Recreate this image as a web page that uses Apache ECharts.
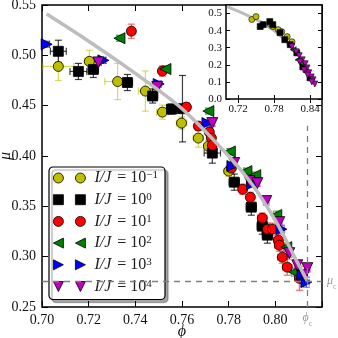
<!DOCTYPE html>
<html>
<head>
<meta charset="utf-8">
<script src="https://cdn.jsdelivr.net/npm/echarts@6/dist/echarts.min.js"></script>
<style>
html, body { margin: 0; padding: 0; background: #fff; }
#chart { width: 338px; height: 338px; }
</style>
</head>
<body>
<div id="chart"></div>
<script>
// each point: [phi, mu, dphi, dmu]
const yellowPts = [
    [0.7070, 0.4890, 0.0066, 0.014],
    [0.7203, 0.4940, 0.0022, 0.011],
    [0.7324, 0.4740, 0.0055, 0.018],
    [0.7443, 0.4645, 0.0030, 0.020],
    [0.7516, 0.4436, 0.0025, 0.007],
    [0.7598, 0.4327, 0.0022, 0.006],
    [0.7670, 0.4178, 0.0022, 0.009],
    [0.7713, 0.4098, 0.0020, 0.006],
    [0.7800, 0.3850, 0.0020, 0.005]
];
const blackPts = [
    [0.7070, 0.5040, 0.0034, 0.011],
    [0.7156, 0.4840, 0.0036, 0.008],
    [0.7220, 0.4860, 0.0022, 0.008],
    [0.7366, 0.4730, 0.0022, 0.008],
    [0.7474, 0.4596, 0.0022, 0.007],
    [0.7555, 0.4466, 0.0022, 0.005],
    [0.7602, 0.4470, 0.0022, 0.033],
    [0.7730, 0.4029, 0.0035, 0.010],
    [0.7824, 0.3740, 0.0022, 0.008],
    [0.7897, 0.3492, 0.0022, 0.008],
    [0.7944, 0.3303, 0.0022, 0.008],
    [0.7966, 0.3214, 0.0022, 0.008]
];
const redPts = [
    [0.7383, 0.5240, 0.0015, 0.007],
    [0.7516, 0.4844, 0.0015, 0.005],
    [0.7619, 0.4486, 0.0015, 0.004],
    [0.7670, 0.4297, 0.0015, 0.004],
    [0.7717, 0.4238, 0.0015, 0.004],
    [0.7726, 0.4178, 0.0015, 0.004],
    [0.7730, 0.4108, 0.0015, 0.004],
    [0.7812, 0.3880, 0.0015, 0.005],
    [0.7860, 0.3670, 0.0015, 0.005],
    [0.7893, 0.3590, 0.0015, 0.005],
    [0.7944, 0.3383, 0.0020, 0.005],
    [0.7966, 0.3273, 0.0020, 0.006],
    [0.7987, 0.3273, 0.0020, 0.006],
    [0.8013, 0.3164, 0.0020, 0.006],
    [0.8017, 0.3114, 0.0020, 0.006],
    [0.8030, 0.2995, 0.0020, 0.006],
    [0.8051, 0.2896, 0.0020, 0.008],
    [0.8103, 0.2786, 0.0020, 0.012]
];
const greenPts = [
    [0.7332, 0.5170, 0.0010, 0.003],
    [0.7529, 0.4864, 0.0010, 0.003],
    [0.7713, 0.4446, 0.0010, 0.003],
    [0.7805, 0.4045, 0.0010, 0.003],
    [0.7876, 0.3850, 0.0010, 0.003],
    [0.7914, 0.3810, 0.0010, 0.003],
    [0.8004, 0.3413, 0.0012, 0.004],
    [0.8047, 0.3094, 0.0012, 0.004],
    [0.8081, 0.2846, 0.0012, 0.004],
    [0.8110, 0.2780, 0.0012, 0.004]
];
const bluePts = [
    [0.7020, 0.5110, 0.0012, 0.003],
    [0.7263, 0.4950, 0.0010, 0.003],
    [0.7500, 0.4715, 0.0010, 0.003],
    [0.7709, 0.4327, 0.0010, 0.003],
    [0.7816, 0.3900, 0.0010, 0.003],
    [0.7900, 0.3720, 0.0010, 0.003],
    [0.8026, 0.3273, 0.0012, 0.004],
    [0.8116, 0.2816, 0.0012, 0.004],
    [0.8133, 0.2747, 0.0012, 0.005]
];
const magentaPts = [
    [0.7242, 0.4930, 0.0010, 0.003],
    [0.7494, 0.4685, 0.0010, 0.003],
    [0.7730, 0.4327, 0.0010, 0.003],
    [0.7824, 0.3930, 0.0010, 0.003],
    [0.7889, 0.3750, 0.0010, 0.003],
    [0.7923, 0.3730, 0.0010, 0.003],
    [0.7961, 0.3552, 0.0012, 0.004],
    [0.8017, 0.3343, 0.0012, 0.004],
    [0.8060, 0.3035, 0.0012, 0.004],
    [0.8094, 0.2915, 0.0012, 0.004],
    [0.8137, 0.2886, 0.0012, 0.004],
    [0.8124, 0.2816, 0.0012, 0.004]
];

// inset points: [phi, mu]
const insetYellow = [[0.743, 0.465], [0.750, 0.482], [0.773, 0.441], [0.778, 0.424], [0.787, 0.406], [0.793, 0.394], [0.802, 0.365], [0.810, 0.335]];
const insetBlack = [[0.757, 0.424], [0.762, 0.435], [0.773, 0.453], [0.778, 0.435], [0.790, 0.388], [0.798, 0.347], [0.807, 0.318], [0.818, 0.270], [0.828, 0.188], [0.840, 0.124]];
const insetGreen = [[0.812, 0.288], [0.820, 0.229], [0.825, 0.212], [0.833, 0.159]];
const insetMagenta = [[0.810, 0.306], [0.817, 0.276], [0.822, 0.253], [0.827, 0.229], [0.832, 0.206], [0.835, 0.182], [0.838, 0.153], [0.842, 0.129], [0.845, 0.112], [0.848, 0.088], [0.823, 0.218], [0.830, 0.170], [0.836, 0.140], [0.843, 0.100]];

// fitted curve (grey)
const curvePts = [[0.702, 0.541], [0.720, 0.514], [0.740, 0.482], [0.760, 0.447], [0.780, 0.400], [0.790, 0.372], [0.800, 0.336], [0.810, 0.292], [0.8137, 0.276]];

const phiC = 0.8137;
const muC = 0.276;

// inset tick values
const insetXTicks = [0.72, 0.78, 0.84];
const insetYTicks = [0, 0.1, 0.2, 0.3, 0.4, 0.5];

const exponents = ['\u22121', '0', '1', '2', '3', '4'];
const seriesNames = exponents.map(e => 'I/J = 10^' + e);
const colors = ['#bfbf00', '#000000', '#ff0000', '#008000', '#0000ff', '#bf00bf'];
const errColors = ['rgba(191,191,0,0.6)', 'rgba(0,0,0,0.75)', 'rgba(255,0,0,0.6)', 'rgba(0,128,0,0.6)', 'rgba(0,0,255,0.6)', 'rgba(191,0,191,0.6)'];
const allPts = [yellowPts, blackPts, redPts, greenPts, bluePts, magentaPts];
const insetPts = [insetYellow, insetBlack, null, insetGreen, null, insetMagenta];

const symbols = [
    'circle',
    'rect',
    'circle',
    'path://M0,5L10,0L10,10Z',
    'path://M10,5L0,0L0,10Z',
    'path://M0,0L10,0L5,10Z'
];
const symbolSizes = [10, 10, 10, 11, 11, 11];
// legend shows two markers side by side
const legendIcons = [
    'path://M0,5A5,5,0,1,1,10,5A5,5,0,1,1,0,5ZM22,5A5,5,0,1,1,32,5A5,5,0,1,1,22,5Z',
    'path://M0,0L10,0L10,10L0,10ZM22,0L32,0L32,10L22,10Z',
    'path://M0,5A5,5,0,1,1,10,5A5,5,0,1,1,0,5ZM22,5A5,5,0,1,1,32,5A5,5,0,1,1,22,5Z',
    'path://M0,5L10,0L10,10ZM22,5L32,0L32,10Z',
    'path://M10,5L0,0L0,10ZM32,5L22,0L22,10Z',
    'path://M0,0L10,0L5,10ZM22,0L32,0L27,10Z'
];

const serif = 'Liberation Serif';

function errorBars(color) {
    return function (params, api) {
        const x = api.value(0), y = api.value(1);
        const dx = api.value(2), dy = api.value(3);
        const l = api.coord([x - dx, y]);
        const r = api.coord([x + dx, y]);
        const t = api.coord([x, y + dy]);
        const b = api.coord([x, y - dy]);
        const cap = 3.5;
        const style = { stroke: color, lineWidth: 1.2 };
        const seg = (x1, y1, x2, y2) => ({ type: 'line', shape: { x1, y1, x2, y2 }, style });
        return {
            type: 'group',
            children: [
                seg(l[0], l[1], r[0], r[1]),
                seg(t[0], t[1], b[0], b[1]),
                seg(l[0], l[1] - cap, l[0], l[1] + cap),
                seg(r[0], r[1] - cap, r[0], r[1] + cap),
                seg(t[0] - cap, t[1], t[0] + cap, t[1]),
                seg(b[0] - cap, b[1], b[0] + cap, b[1])
            ]
        };
    };
}

const chart = echarts.init(document.getElementById('chart'));

const series = [];

// dashed reference lines in the main plot
series.push({
    type: 'line',
    xAxisIndex: 0,
    yAxisIndex: 0,
    data: [],
    z: 1,
    markLine: {
        silent: true,
        symbol: 'none',
        animation: false,
        lineStyle: { color: '#808080', width: 1.3, type: [6, 5] },
        label: {
            color: '#999',
            fontFamily: serif,
            rich: {
                i: { fontStyle: 'italic', fontSize: 12, fontFamily: serif, color: '#999' },
                s: { fontSize: 8, fontFamily: serif, color: '#999', verticalAlign: 'bottom', lineHeight: 8, padding: [0, 0, -4, 0] }
            }
        },
        data: [
            [{ coord: [0.70, muC], label: { position: 'end', formatter: '{i|\u03bc}{s|c}' } }, { coord: [0.82, muC] }],
            [{ coord: [phiC, 0.25], label: { position: 'start', formatter: '{i|\u03d5}{s|c}' } }, { coord: [phiC, 0.43] }]
        ]
    }
});

allPts.forEach((pts, i) => {
    series.push({
        type: 'custom',
        name: 'err' + i,
        xAxisIndex: 0,
        yAxisIndex: 0,
        renderItem: errorBars(errColors[i]),
        encode: { x: 0, y: 1 },
        data: pts,
        clip: true,
        z: 2
    });
    series.push({
        type: 'scatter',
        name: seriesNames[i],
        xAxisIndex: 0,
        yAxisIndex: 0,
        symbol: symbols[i],
        symbolSize: symbolSizes[i],
        encode: { x: 0, y: 1 },
        data: pts,
        itemStyle: { color: colors[i], borderColor: '#000', borderWidth: 0.8, opacity: 1 },
        z: 2
    });
});

series.push({
    type: 'line',
    name: 'fit',
    xAxisIndex: 0,
    yAxisIndex: 0,
    data: curvePts,
    smooth: 0.3,
    showSymbol: false,
    lineStyle: { color: '#bdbdbd', width: 3.5 },
    z: 3
});

// inset
series.push({
    type: 'line',
    name: 'fitInset',
    xAxisIndex: 2,
    yAxisIndex: 2,
    data: curvePts,
    smooth: 0.3,
    showSymbol: false,
    lineStyle: { color: '#bdbdbd', width: 3 },
    z: 12,
    markLine: {
        silent: true,
        symbol: 'none',
        animation: false,
        label: { show: false },
        lineStyle: { color: '#808080', width: 1.3, type: [6, 5] },
        data: [
            [{ coord: [0.70, muC] }, { coord: [0.86, muC] }],
            [{ coord: [phiC, 0] }, { coord: [phiC, 0.55] }]
        ]
    }
});
insetPts.forEach((pts, i) => {
    if (!pts) return;
    series.push({
        type: 'scatter',
        name: 'inset' + i,
        xAxisIndex: 2,
        yAxisIndex: 2,
        symbol: symbols[i],
        symbolSize: 6,
        data: pts,
        itemStyle: { color: colors[i], borderColor: '#000', borderWidth: 0.6, opacity: 1 },
        z: 13
    });
});

const mainTick = () => ({ show: true, inside: true, length: 6, lineStyle: { color: '#000', width: 1 } });
const insetTick = () => ({ show: true, inside: true, length: 4, lineStyle: { color: '#000', width: 1 } });

const option = {
    animation: false,
    backgroundColor: '#fff',
    grid: [
        { left: 42, top: 5, width: 280, height: 302, outerBoundsMode: 'none', containLabel: false,
          show: true, borderColor: '#000', borderWidth: 1.5, backgroundColor: 'transparent' },
        { left: 226, top: 5, width: 96, height: 94, outerBoundsMode: 'none', containLabel: false,
          show: true, borderColor: '#000', borderWidth: 1.5, backgroundColor: '#fff', z: 10 }
    ],
    xAxis: [
        {
            type: 'value', gridIndex: 0, position: 'bottom', min: 0.70, max: 0.82, interval: 0.02,
            axisLine: { show: false }, axisTick: mainTick(), splitLine: { show: false },
            axisLabel: { fontFamily: serif, fontSize: 14, color: '#111', margin: 6,
                formatter: v => v > 0.815 ? '' : v.toFixed(2) },
            name: '\u03d5', nameLocation: 'middle', nameGap: 17, nameMoveOverlap: false,
            nameTextStyle: { fontFamily: serif, fontStyle: 'italic', fontSize: 16, color: '#111' }
        },
        {
            type: 'value', gridIndex: 0, position: 'top', min: 0.70, max: 0.82, interval: 0.02,
            axisLine: { show: false }, axisTick: mainTick(), splitLine: { show: false }, axisLabel: { show: false }
        },
        {
            type: 'value', gridIndex: 1, position: 'bottom', min: 0.70, max: 0.86, z: 11,
            axisLine: { show: false },
            axisTick: Object.assign({ customValues: insetXTicks }, insetTick()),
            splitLine: { show: false },
            axisLabel: { customValues: insetXTicks, fontFamily: serif, fontSize: 11, color: '#111', margin: 5,
                formatter: v => v.toFixed(2) }
        },
        {
            type: 'value', gridIndex: 1, position: 'top', min: 0.70, max: 0.86, z: 11,
            axisLine: { show: false },
            axisTick: Object.assign({ customValues: insetXTicks }, insetTick()),
            splitLine: { show: false }, axisLabel: { show: false }
        }
    ],
    yAxis: [
        {
            type: 'value', gridIndex: 0, position: 'left', min: 0.25, max: 0.55, interval: 0.05,
            axisLine: { show: false }, axisTick: mainTick(), splitLine: { show: false },
            axisLabel: { fontFamily: serif, fontSize: 14, color: '#111', margin: 6,
                formatter: v => v.toFixed(2) },
            name: '\u03bc', nameLocation: 'middle', nameGap: 28, nameRotate: 90, nameMoveOverlap: false,
            nameTextStyle: { fontFamily: serif, fontStyle: 'italic', fontSize: 16, color: '#111' }
        },
        {
            type: 'value', gridIndex: 0, position: 'right', min: 0.25, max: 0.55, interval: 0.05,
            axisLine: { show: false }, axisTick: mainTick(), splitLine: { show: false }, axisLabel: { show: false }
        },
        {
            type: 'value', gridIndex: 1, position: 'left', min: 0, max: 0.55, z: 11,
            axisLine: { show: false, onZero: false },
            axisTick: Object.assign({ customValues: insetYTicks }, insetTick()),
            splitLine: { show: false },
            // labels for this axis are placed below from the axis' own scale
            axisLabel: { show: false }
        },
        {
            type: 'value', gridIndex: 1, position: 'right', min: 0, max: 0.55, z: 11,
            axisLine: { show: false, onZero: false },
            axisTick: Object.assign({ customValues: insetYTicks }, insetTick()),
            splitLine: { show: false }, axisLabel: { show: false }
        }
    ],
    legend: {
        orient: 'vertical',
        left: 49,
        top: 167,
        padding: [3, 7, 5, 4],
        itemGap: 5.7,
        itemWidth: 32,
        itemHeight: 10,
        backgroundColor: '#fff',
        borderColor: '#000',
        borderWidth: 1.2,
        borderRadius: 4,
        shadowColor: 'rgba(0,0,0,0.35)',
        shadowOffsetX: 3,
        shadowOffsetY: 3,
        shadowBlur: 1,
        itemStyle: { borderColor: '#000', borderWidth: 0.8 },
        data: seriesNames.map((n, i) => ({ name: n, icon: legendIcons[i] })),
        formatter: name => '{i|I/J}{n| = 10}{s|' + exponents[seriesNames.indexOf(name)] + '}',
        textStyle: {
            padding: [0, 0, 0, 4],
            rich: {
                i: { fontFamily: serif, fontStyle: 'italic', fontSize: 16, lineHeight: 16, color: '#222', padding: [0, 2, 0, 0] },
                n: { fontFamily: serif, fontSize: 16, lineHeight: 16, color: '#222' },
                s: { fontFamily: serif, fontSize: 11, lineHeight: 10, verticalAlign: 'top', color: '#222' }
            }
        }
    },
    series: series
};

chart.setOption(option);

// inset y tick labels, positioned through the inset axes' scales
const insetYLabels = insetYTicks.map(v => {
    const p = chart.convertToPixel({ xAxisIndex: 2, yAxisIndex: 2 }, [0.70, v]);
    return {
        type: 'text',
        x: p[0] - 4,
        y: p[1],
        z: 50,
        silent: true,
        style: {
            text: v.toFixed(1),
            fill: '#111',
            fontFamily: serif,
            fontSize: 11,
            align: 'right',
            verticalAlign: 'middle'
        }
    };
});
chart.setOption({ graphic: insetYLabels });
</script>
</body>
</html>
